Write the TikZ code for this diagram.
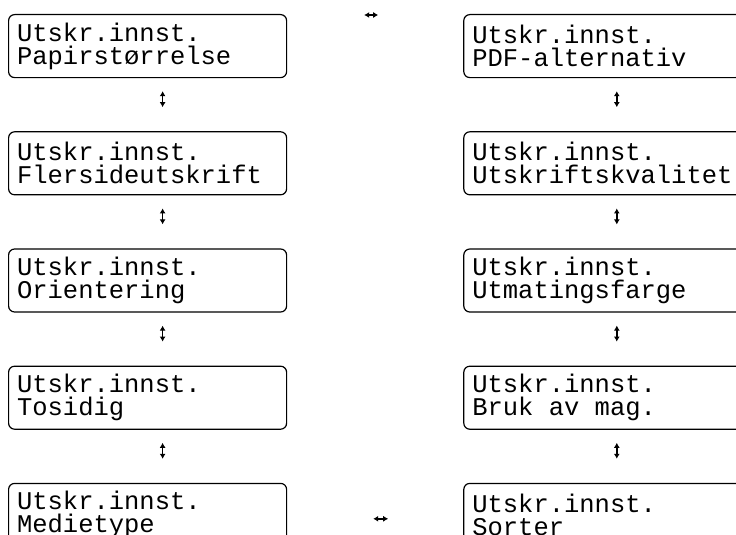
\documentclass[tikz,border=0pt]{standalone}
\usepackage{fontspec}
\newfontfamily\lcdfont{Liberation Mono}
\usetikzlibrary{arrows.meta,positioning}

\begin{document}
\begin{tikzpicture}[x=1pt, y=1pt, node distance=53pt and 176pt,
    lcd/.style={rectangle, draw, rounded corners=6pt, line width=1.2pt,
        minimum width=278pt, minimum height=63pt, text width=261pt,
        inner xsep=8.5pt, align=left, font=\lcdfont\fontsize{25.5}{23}\selectfont},
    nav/.style={{Latex[length=5pt,width=6pt]}-{Latex[length=5pt,width=6pt]}, line width=1.6pt}]
    \useasboundingbox (0,0) rectangle (736,-535);

    \node[lcd, anchor=north west] (paper) at (8,-14) {Utskr.innst.\\Papirstørrelse};
    \node[lcd, below=of paper] (multi) {Utskr.innst.\\Flersideutskrift};
    \node[lcd, below=of multi] (orient) {Utskr.innst.\\Orientering};
    \node[lcd, below=of orient] (duplex) {Utskr.innst.\\Tosidig};
    \node[lcd, below=of duplex] (media) {Utskr.innst.\\Medietype};

    \node[lcd, right=of paper] (pdf) {Utskr.innst.\\PDF-alternativ};
    \node[lcd, below=of pdf] (quality) {Utskr.innst.\\Utskriftskvalitet};
    \node[lcd, below=of quality] (output) {Utskr.innst.\\Utmatingsfarge};
    \node[lcd, below=of output] (tray) {Utskr.innst.\\Bruk\hphantom{x}av\hphantom{x}mag.};
    \node[lcd, below=of tray] (sort) {Utskr.innst.\\Sorter};

    \draw[nav, shorten <=13pt, shorten >=24pt] ([xshift=15pt]paper.south) -- ([xshift=15pt]multi.north);
    \draw[nav, shorten <=13pt, shorten >=24pt] ([xshift=15pt]multi.south) -- ([xshift=15pt]orient.north);
    \draw[nav, shorten <=13pt, shorten >=24pt] ([xshift=15pt]orient.south) -- ([xshift=15pt]duplex.north);
    \draw[nav, shorten <=13pt, shorten >=24pt] ([xshift=15pt]duplex.south) -- ([xshift=15pt]media.north);

    \draw[nav, shorten <=13pt, shorten >=24pt] ([xshift=14pt]pdf.south) -- ([xshift=14pt]quality.north);
    \draw[nav, shorten <=13pt, shorten >=24pt] ([xshift=14pt]quality.south) -- ([xshift=14pt]output.north);
    \draw[nav, shorten <=13pt, shorten >=24pt] ([xshift=14pt]output.south) -- ([xshift=14pt]tray.north);
    \draw[nav, shorten <=13pt, shorten >=24pt] ([xshift=14pt]tray.south) -- ([xshift=14pt]sort.north);

    \draw[nav, shorten <=77pt, shorten >=85pt] ([yshift=-1pt]paper.north east) -- ([yshift=-1pt]pdf.north west);
    \draw[nav, shorten <=86pt, shorten >=75pt] ([yshift=-36pt]media.north east) -- ([yshift=-36pt]sort.north west);
\end{tikzpicture}
\end{document}
